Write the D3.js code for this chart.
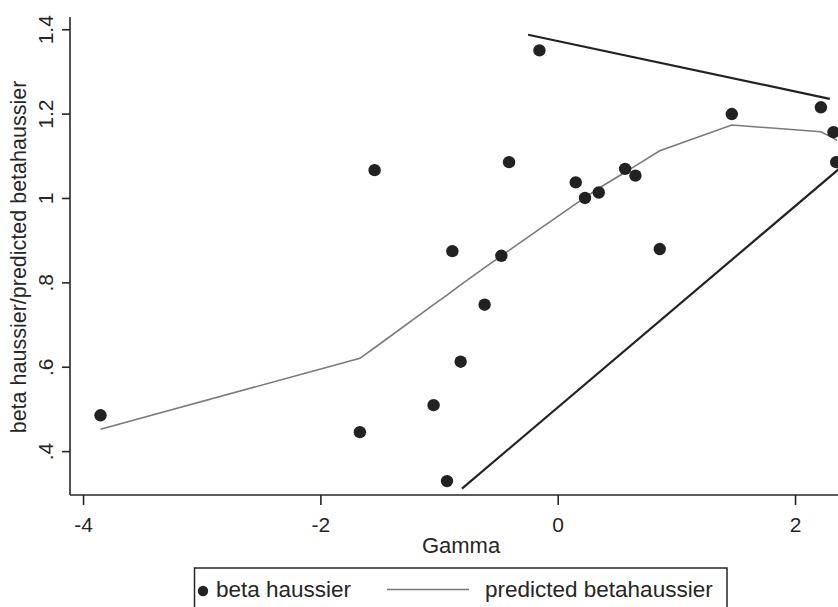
<!DOCTYPE html>
<html>
<head>
<meta charset="utf-8">
<script src="https://cdn.jsdelivr.net/npm/d3@7"></script>
<style>
  body { margin: 0; background: #fff; }
  svg { display: block; font-family: "Liberation Sans", Arial, Helvetica, sans-serif; }
</style>
</head>
<body>
<script>
// scatter: Gamma vs beta haussier
const gammaValues = [-3.853, -1.667, -1.543, -1.046, -0.933, -0.888, -0.818, -0.616, -0.475, -0.41,
                     -0.154, 0.152, 0.23, 0.346, 0.568, 0.655, 0.86, 1.467, 2.218, 2.324, 2.347];
const betaValues  = [0.485, 0.445, 1.066, 0.509, 0.329, 0.874, 0.612, 0.747, 0.863, 1.085,
                     1.35, 1.037, 1.0, 1.013, 1.069, 1.053, 0.879, 1.199, 1.215, 1.156, 1.085];

// smoothed (grey) predicted line
const smoothX = [-3.853, -1.667, -1.543, -1.046, -0.933, -0.888, -0.818, -0.616, -0.475, -0.41,
                 -0.154, 0.152, 0.23, 0.346, 0.568, 0.655, 0.86, 1.467, 2.218, 2.324, 2.355];
const smoothY = [0.452, 0.620, 0.645, 0.747, 0.770, 0.779, 0.794, 0.835, 0.863, 0.876,
                 0.926, 0.986, 1.001, 1.023, 1.061, 1.076, 1.112, 1.173, 1.157, 1.142, 1.136];

// black lines
const upperX = [-0.250, 2.293];
const upperY = [1.387, 1.235];
const lowerX = [-0.807, 2.40];
const lowerY = [0.311, 1.076];

const xTicks = [-4, -2, 0, 2];
const xTickLabels = ["-4", "-2", "0", "2"];
const yTicks = [0.4, 0.6, 0.8, 1, 1.2, 1.4];
const yTickLabels = [".4", ".6", ".8", "1", "1.2", "1.4"];

const width = 838, height = 607;
const ink = "#262626";

const svg = d3.select("body").append("svg")
  .attr("width", width)
  .attr("height", height);

const x = d3.scaleLinear().domain([-4.11, 2.48]).range([70, 852]);
const y = d3.scaleLinear().domain([0.296, 1.429]).range([495, 17]);

// axes
const xAxis = svg.append("g")
  .attr("transform", "translate(0,495)")
  .call(d3.axisBottom(x).tickValues(xTicks).tickSize(10).tickPadding(12)
    .tickFormat((d, i) => xTickLabels[i]));
xAxis.select(".domain").attr("d", "M70,0H852");

const yAxis = svg.append("g")
  .attr("transform", "translate(70,0)")
  .call(d3.axisLeft(y).tickValues(yTicks).tickSize(8)
    .tickFormat((d, i) => yTickLabels[i]));
yAxis.select(".domain").attr("d", "M0,17V495");
yAxis.selectAll(".tick text")
  .attr("x", null).attr("dy", null)
  .attr("text-anchor", "middle")
  .attr("transform", "translate(-17,0) rotate(-90)");

svg.selectAll(".domain, .tick line")
  .attr("stroke", ink).attr("stroke-width", 1.6);
svg.selectAll(".tick text")
  .attr("fill", ink)
  .style("font-size", "21px")
  .style("font-family", "'Liberation Sans', Arial, sans-serif");

// axis titles
svg.append("text")
  .attr("x", 461).attr("y", 553)
  .attr("text-anchor", "middle")
  .attr("fill", ink)
  .style("font-size", "22px")
  .text("Gamma");

svg.append("text")
  .attr("transform", "translate(26,257) rotate(-90)")
  .attr("text-anchor", "middle")
  .attr("fill", ink)
  .style("font-size", "21.5px")
  .text("beta haussier/predicted betahaussier");

const line = d3.line().x(d => x(d[0])).y(d => y(d[1]));

// grey smoothed line
svg.append("path")
  .datum(d3.zip(smoothX, smoothY))
  .attr("d", line)
  .attr("fill", "none")
  .attr("stroke", "#7a7a7a")
  .attr("stroke-width", 1.6);

// black lines
[[upperX, upperY], [lowerX, lowerY]].forEach(([xs, ys]) => {
  svg.append("path")
    .datum(d3.zip(xs, ys))
    .attr("d", line)
    .attr("fill", "none")
    .attr("stroke", "#222")
    .attr("stroke-width", 2.2);
});

// points
svg.append("g").selectAll("circle")
  .data(d3.zip(gammaValues, betaValues))
  .join("circle")
  .attr("cx", d => x(d[0]))
  .attr("cy", d => y(d[1]))
  .attr("r", 6.2)
  .attr("fill", "#222");

// legend
const lg = svg.append("g");
lg.append("rect")
  .attr("x", 194.5).attr("y", 568)
  .attr("width", 532.5).attr("height", 60)
  .attr("fill", "none")
  .attr("stroke", ink).attr("stroke-width", 1.5);
lg.append("circle")
  .attr("cx", 203).attr("cy", 591).attr("r", 5.2)
  .attr("fill", "#222");
lg.append("text")
  .attr("x", 216).attr("y", 597)
  .attr("fill", ink).style("font-size", "22.5px")
  .text("beta haussier");
lg.append("line")
  .attr("x1", 387).attr("x2", 469)
  .attr("y1", 589.5).attr("y2", 589.5)
  .attr("stroke", "#7a7a7a").attr("stroke-width", 1.6);
lg.append("text")
  .attr("x", 485).attr("y", 597)
  .attr("fill", ink).style("font-size", "22.5px")
  .text("predicted betahaussier");
</script>
</body>
</html>
